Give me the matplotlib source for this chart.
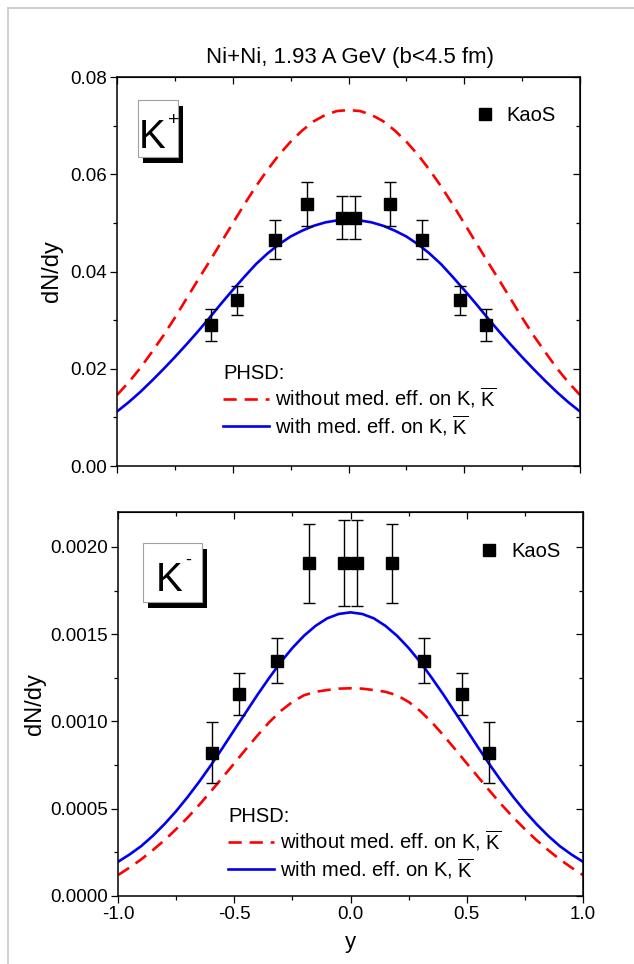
import matplotlib
matplotlib.use("Agg")
import matplotlib.pyplot as plt
from matplotlib.patches import Rectangle
from matplotlib.lines import Line2D
from matplotlib.ticker import MultipleLocator, FormatStrFormatter

plt.rcParams['font.family'] = ['Liberation Sans', 'DejaVu Sans']
plt.rcParams['mathtext.fontset'] = 'custom'
plt.rcParams['mathtext.rm'] = 'Liberation Sans'
plt.rcParams['mathtext.it'] = 'Liberation Sans:italic'
plt.rcParams['mathtext.bf'] = 'Liberation Sans:bold'

# ---------------- data ----------------
title = "Ni+Ni, 1.93 A GeV (b<4.5 fm)"

rap_grid = [-1.0, -0.95, -0.9, -0.85, -0.8, -0.75, -0.7, -0.65, -0.6, -0.55, -0.5,
            -0.45, -0.4, -0.35, -0.3, -0.25, -0.2, -0.15, -0.1, -0.05, 0.0,
            0.05, 0.1, 0.15, 0.2, 0.25, 0.3, 0.35, 0.4, 0.45, 0.5,
            0.55, 0.6, 0.65, 0.7, 0.75, 0.8, 0.85, 0.9, 0.95, 1.0]

# K+ PHSD curves
kp_without = [0.0146, 0.0172, 0.0201, 0.0234, 0.0268, 0.0305, 0.0344, 0.0383, 0.0421, 0.0460, 0.0499,
              0.0538, 0.0575, 0.0609, 0.0640, 0.0667, 0.0690, 0.0709, 0.0722, 0.0730, 0.0732,
              0.0730, 0.0722, 0.0709, 0.0690, 0.0667, 0.0640, 0.0609, 0.0575, 0.0538, 0.0499,
              0.0460, 0.0421, 0.0383, 0.0344, 0.0305, 0.0268, 0.0234, 0.0201, 0.0172, 0.0146]
kp_with = [0.0112, 0.0131, 0.0152, 0.0175, 0.0199, 0.0224, 0.0250, 0.0277, 0.0305, 0.0334, 0.0362,
           0.0389, 0.0415, 0.0437, 0.0456, 0.0472, 0.0484, 0.0494, 0.0501, 0.0505, 0.0506,
           0.0505, 0.0501, 0.0494, 0.0484, 0.0472, 0.0456, 0.0437, 0.0415, 0.0389, 0.0362,
           0.0334, 0.0305, 0.0277, 0.0250, 0.0224, 0.0199, 0.0175, 0.0152, 0.0131, 0.0112]

# K- PHSD curves
km_without = [0.000120, 0.000163, 0.000210, 0.000263, 0.000320, 0.000383, 0.000450, 0.000523, 0.000600, 0.000680, 0.000760,
              0.000841, 0.000920, 0.000995, 0.001060, 0.001112, 0.001150, 0.001170, 0.001180, 0.001188, 0.001190,
              0.001188, 0.001180, 0.001170, 0.001150, 0.001112, 0.001060, 0.000995, 0.000920, 0.000841, 0.000760,
              0.000680, 0.000600, 0.000523, 0.000450, 0.000383, 0.000320, 0.000263, 0.000210, 0.000163, 0.000120]
km_with = [0.000196, 0.000238, 0.000286, 0.000345, 0.000412, 0.000486, 0.000568, 0.000656, 0.000750, 0.000849, 0.000951,
           0.001052, 0.001153, 0.001249, 0.001340, 0.001421, 0.001491, 0.001548, 0.001591, 0.001616, 0.001625,
           0.001616, 0.001591, 0.001548, 0.001491, 0.001421, 0.001340, 0.001249, 0.001153, 0.001052, 0.000951,
           0.000849, 0.000750, 0.000656, 0.000568, 0.000486, 0.000412, 0.000345, 0.000286, 0.000238, 0.000196]

# KaoS data
kp_y = [-0.596, -0.481, -0.318, -0.178, -0.028, 0.028, 0.178, 0.318, 0.481, 0.596]
kp_val = [0.0290, 0.0341, 0.0465, 0.0539, 0.0511, 0.0511, 0.0539, 0.0465, 0.0341, 0.0290]
kp_err = [0.0032, 0.0030, 0.0040, 0.0045, 0.0045, 0.0045, 0.0045, 0.0040, 0.0030, 0.0032]

km_y = [-0.596, -0.479, -0.317, -0.178, -0.027, 0.027, 0.178, 0.317, 0.479, 0.596]
km_val = [0.000821, 0.001158, 0.001349, 0.001905, 0.001907, 0.001907, 0.001905, 0.001349, 0.001158, 0.000821]
km_err = [0.000174, 0.000120, 0.000127, 0.000225, 0.000247, 0.000247, 0.000225, 0.000127, 0.000120, 0.000174]

x_ticks = [-1.0, -0.5, 0.0, 0.5, 1.0]
kp_yticks = [0.00, 0.02, 0.04, 0.06, 0.08]
km_yticks = [0.0000, 0.0005, 0.0010, 0.0015, 0.0020]

lab_without = r'without med. eff. on K, $\overline{\mathrm{K}}$'
lab_with = r'with med. eff. on K, $\overline{\mathrm{K}}$'

# ---------------- figure ----------------
W, H = 634, 964
fig = plt.figure(figsize=(W / 100, H / 100), dpi=100)

FS_TICK = 13.5
FS_LEG = 14.5
FS_K = 29

ax1 = fig.add_axes([117 / W, 1 - 466 / H, 463 / W, 389 / H])
ax2 = fig.add_axes([118 / W, 1 - 896 / H, 465 / W, 384 / H])

# light grey frame lines (page border)
fig.add_artist(Line2D([8 / W, 8 / W], [0, 1 - 8 / H], color='#c8c8c8', lw=1.2, transform=fig.transFigure))
fig.add_artist(Line2D([8 / W, 1], [1 - 8 / H, 1 - 8 / H], color='#c8c8c8', lw=1.2, transform=fig.transFigure))

fig.text(350 / W, 1 - 57 / H, title, ha='center', va='center', fontsize=16)


def style_axes(ax, yticks, yminor, yfmt, xlabels):
    ax.set_xlim(-1, 1)
    ax.set_xticks(x_ticks)
    ax.xaxis.set_minor_locator(MultipleLocator(0.25))
    ax.set_yticks(yticks)
    ax.yaxis.set_minor_locator(MultipleLocator(yminor))
    ax.yaxis.set_major_formatter(FormatStrFormatter(yfmt))
    ax.xaxis.set_major_formatter(FormatStrFormatter('%.1f'))
    for s in ax.spines.values():
        s.set_linewidth(1.1)
    ax.tick_params(which='major', direction='out', length=5, width=0.9, labelsize=FS_TICK, pad=2)
    ax.tick_params(which='minor', direction='out', length=3, width=0.9)
    if not xlabels:
        ax.tick_params(axis='x', labelbottom=False)
    sx = ax.secondary_xaxis('top')
    sx.set_xticks(x_ticks)
    sx.xaxis.set_minor_locator(MultipleLocator(0.25))
    sx.tick_params(which='major', direction='in', length=5, width=0.9, labeltop=False)
    sx.tick_params(which='minor', direction='in', length=3, width=0.9)
    sy = ax.secondary_yaxis('right')
    sy.set_yticks(yticks)
    sy.yaxis.set_minor_locator(MultipleLocator(yminor))
    sy.tick_params(which='major', direction='in', length=5, width=0.9, labelright=False)
    sy.tick_params(which='minor', direction='in', length=3, width=0.9)


def draw_panel(ax, y_without, y_with, dy, dval, derr):
    l_wo, = ax.plot(rap_grid, y_without, color='#ff0000', lw=1.9, dashes=(5, 3), label=lab_without)
    l_w, = ax.plot(rap_grid, y_with, color='#0000ee', lw=1.9, label=lab_with)
    eb = ax.errorbar(dy, dval, yerr=derr, fmt='s', color='black', ms=8, elinewidth=1.0,
                     capsize=4.3, capthick=1.0, label='KaoS', zorder=5)
    return l_wo, l_w, eb


def k_box(ax, bx, by, bw, bh, dx, dyy):
    ax.add_patch(Rectangle((bx + dx, by - dyy), bw, bh, transform=ax.transAxes,
                           facecolor='black', edgecolor='none', zorder=6, clip_on=False))
    ax.add_patch(Rectangle((bx, by), bw, bh, transform=ax.transAxes,
                           facecolor='white', edgecolor='#a0a0a0', lw=0.8, zorder=7, clip_on=False))


def phsd_legend(ax, handles, anchor):
    ax.legend(handles=handles, loc='upper left', bbox_to_anchor=anchor, frameon=False,
              fontsize=FS_LEG, title='PHSD:', title_fontsize=FS_LEG, alignment='left',
              handlelength=2.3, handletextpad=0.3, labelspacing=0.12, borderpad=0, borderaxespad=0)


def kaos_legend(ax, handle, anchor):
    leg = ax.legend(handles=[handle], labels=['KaoS'], loc='upper right', bbox_to_anchor=anchor,
                    frameon=False, fontsize=FS_LEG, handlelength=1.0, handletextpad=0.6, borderpad=0,
                    borderaxespad=0, numpoints=1)
    ax.add_artist(leg)


# ---- top panel: K+ ----
style_axes(ax1, kp_yticks, 0.01, '%.2f', xlabels=False)
ax1.set_ylim(0, 0.08)
l_wo, l_w, eb = draw_panel(ax1, kp_without, kp_with, kp_y, kp_val, kp_err)
ax1.set_ylabel('dN/dy', fontsize=17)
ax1.yaxis.set_label_coords(-0.117, 0.5)

k_box(ax1, 0.0454, 0.794, 0.0863, 0.147, 0.0108, 0.0154)
ax1.text(0.0475, 0.818, 'K', transform=ax1.transAxes, fontsize=FS_K,
         ha='left', va='baseline', zorder=8)
ax1.text(0.1222, 0.889, '+', transform=ax1.transAxes, fontsize=14, ha='center', va='center', zorder=8)

kaos_legend(ax1, eb[0], (0.948, 0.925))
phsd_legend(ax1, [l_wo, l_w], (0.229, 0.262))

# ---- bottom panel: K- ----
style_axes(ax2, km_yticks, 0.00025, '%.4f', xlabels=True)
ax2.set_ylim(0, 0.0022)
l_wo2, l_w2, eb2 = draw_panel(ax2, km_without, km_with, km_y, km_val, km_err)
ax2.set_ylabel('dN/dy', fontsize=17)
ax2.yaxis.set_label_coords(-0.155, 0.5)
ax2.set_xlabel('y', fontsize=16)
ax2.xaxis.set_label_coords(0.5, -0.095)

k_box(ax2, 0.0538, 0.766, 0.1268, 0.153, 0.0108, 0.0156)
ax2.text(0.0817, 0.794, 'K', transform=ax2.transAxes, fontsize=FS_K,
         ha='left', va='baseline', zorder=8)
ax2.text(0.1505, 0.875, '-', transform=ax2.transAxes, fontsize=13, ha='center', va='center', zorder=8)

kaos_legend(ax2, eb2[0], (0.952, 0.922))
phsd_legend(ax2, [l_wo2, l_w2], (0.2366, 0.232))

fig.savefig('out.png', dpi=100, facecolor='white')
